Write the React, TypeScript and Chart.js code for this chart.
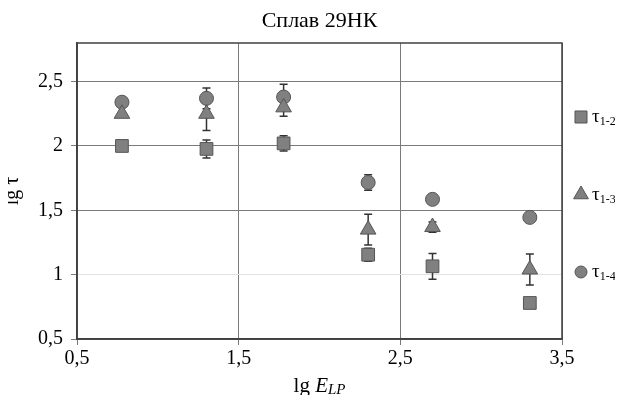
import React, { useEffect, useRef } from "react";
import { Chart, registerables } from "chart.js";

Chart.register(...registerables);

const titleText = "Сплав 29НК";
const xValues = [0.778, 1.301, 1.778, 2.301, 2.699, 3.301];
const tau12 = [2.0, 1.977, 2.02, 1.155, 1.065, 0.78];
const tau12Err = [0, 0.07, 0.06, 0.05, 0.1, 0];
const tau13 = [2.25, 2.25, 2.3, 1.35, 1.37, 1.04];
const tau13Err = [0, 0.13, 0.07, 0.12, 0.04, 0.12];
const tau14 = [2.34, 2.37, 2.38, 1.716, 1.585, 1.445];
const tau14Err = [0, 0.08, 0.1, 0.06, 0, 0];
const seriesNames = ["1-2", "1-3", "1-4"];
const xTicks = [0.5, 1.5, 2.5, 3.5];
const yTicks = [0.5, 1, 1.5, 2, 2.5];

const FONT = "'Liberation Serif', 'Times New Roman', serif";
const FILL = "#808080";
const EDGE = "#555555";

function drawMarker(ctx: CanvasRenderingContext2D, style: string, x: number, y: number, r: number) {
  ctx.beginPath();
  if (style === "rect") {
    const s = Math.SQRT1_2 * r;
    ctx.rect(x - s, y - s, 2 * s, 2 * s);
  } else if (style === "triangle") {
    ctx.moveTo(x, y - r);
    ctx.lineTo(x + r * 0.866, y + r * 0.5);
    ctx.lineTo(x - r * 0.866, y + r * 0.5);
    ctx.closePath();
  } else {
    ctx.arc(x, y, r, 0, Math.PI * 2);
  }
  ctx.fillStyle = FILL;
  ctx.strokeStyle = EDGE;
  ctx.lineWidth = 1;
  ctx.fill();
  ctx.stroke();
}

const decorPlugin = {
  id: "decor",
  beforeDatasetsDraw(chart: any) {
    const ctx: CanvasRenderingContext2D = chart.ctx;
    const xs = chart.scales.x;
    const ys = chart.scales.y;
    ctx.save();
    chart.data.datasets.forEach((ds: any) => {
      const errs: number[] = ds.errors || [];
      ds.data.forEach((p: any, i: number) => {
        const e = errs[i];
        if (!e) return;
        const px = xs.getPixelForValue(p.x);
        const yt = ys.getPixelForValue(p.y + e);
        const yb = ys.getPixelForValue(p.y - e);
        ctx.strokeStyle = "#333333";
        ctx.lineWidth = 1.5;
        ctx.beginPath();
        ctx.moveTo(px, yt);
        ctx.lineTo(px, yb);
        ctx.moveTo(px - 4, yt);
        ctx.lineTo(px + 4, yt);
        ctx.moveTo(px - 4, yb);
        ctx.lineTo(px + 4, yb);
        ctx.stroke();
      });
    });
    ctx.restore();
  },
  afterDatasetsDraw(chart: any) {
    const ctx: CanvasRenderingContext2D = chart.ctx;
    const ca = chart.chartArea;
    ctx.save();
    ctx.strokeStyle = "#404040";
    ctx.lineWidth = 1.5;
    ctx.strokeRect(ca.left, ca.top, ca.right - ca.left, ca.bottom - ca.top);
    ctx.restore();
  },
  afterDraw(chart: any) {
    const ctx: CanvasRenderingContext2D = chart.ctx;
    const ca = chart.chartArea;
    ctx.save();
    ctx.fillStyle = "#000";
    // title
    ctx.font = `22px ${FONT}`;
    ctx.textAlign = "center";
    ctx.textBaseline = "middle";
    ctx.fillText(titleText, (ca.left + ca.right) / 2, 13);
    // x axis title
    ctx.textBaseline = "alphabetic";
    ctx.textAlign = "left";
    const cx = (ca.left + ca.right) / 2;
    const by = chart.height - 3;
    ctx.font = `21px ${FONT}`;
    const w1 = ctx.measureText("lg ").width;
    ctx.font = `italic 21px ${FONT}`;
    const w2 = ctx.measureText("E").width;
    ctx.font = `italic 15px ${FONT}`;
    const w3 = ctx.measureText("LP").width;
    let x0 = cx - (w1 + w2 + w3) / 2;
    ctx.font = `21px ${FONT}`;
    ctx.fillText("lg ", x0, by);
    x0 += w1;
    ctx.font = `italic 21px ${FONT}`;
    ctx.fillText("E", x0, by);
    x0 += w2;
    ctx.font = `italic 15px ${FONT}`;
    ctx.fillText("LP", x0, by + 2);
    // y axis title
    ctx.save();
    ctx.translate(10, (ca.top + ca.bottom) / 2);
    ctx.rotate(-Math.PI / 2);
    ctx.font = `20px ${FONT}`;
    ctx.textAlign = "center";
    ctx.textBaseline = "alphabetic";
    ctx.fillText("lg τ", 0, 0);
    ctx.restore();
    // legend
    const midY = (ca.top + ca.bottom) / 2 + 3.5;
    const gap = 77.5;
    chart.data.datasets.forEach((ds: any, i: number) => {
      const ly = midY + (i - 1) * gap;
      const mx = ca.right + 19;
      drawMarker(ctx, ds.pointStyle, mx, ly, ds.pointStyle === "rect" ? 8.5 : ds.pointStyle === "triangle" ? 8.5 : 6);
      ctx.fillStyle = "#000";
      ctx.textAlign = "left";
      ctx.textBaseline = "alphabetic";
      ctx.font = `19px ${FONT}`;
      ctx.fillText("τ", mx + 11, ly + 5);
      const tw = ctx.measureText("τ").width;
      ctx.font = `12px ${FONT}`;
      ctx.fillText(seriesNames[i], mx + 11 + tw, ly + 8);
    });
    ctx.restore();
  },
};

const fmt = (v: number) => String(v).replace(".", ",");

export default function App() {
  const ref = useRef<HTMLCanvasElement | null>(null);
  useEffect(() => {
    if (!ref.current) return;
    const mk = (ys: number[], errs: number[], style: string, r: number, name: string) => ({
      label: "τ" + name,
      data: xValues.map((x, i) => ({ x, y: ys[i] })),
      errors: errs,
      pointStyle: style,
      pointRadius: r,
      pointHoverRadius: r,
      backgroundColor: FILL,
      borderColor: EDGE,
      borderWidth: 1,
      showLine: false,
    });
    const chart = new Chart(ref.current, {
      type: "scatter",
      data: {
        datasets: [
          mk(tau12, tau12Err, "rect", 9, seriesNames[0]),
          mk(tau13, tau13Err, "triangle", 9, seriesNames[1]),
          mk(tau14, tau14Err, "circle", 7, seriesNames[2]),
        ] as any,
      },
      options: {
        animation: false,
        responsive: true,
        maintainAspectRatio: false,
        layout: { padding: { top: 35, right: 61, left: 0, bottom: 0 } },
        plugins: { legend: { display: false }, title: { display: false }, tooltip: { enabled: false } },
        scales: {
          x: {
            type: "linear",
            min: 0.5,
            max: 3.5,
            afterBuildTicks: (s: any) => {
              s.ticks = xTicks.map((v) => ({ value: v }));
            },
            afterFit: (s: any) => {
              s.height = 56;
            },
            ticks: { callback: (v: any) => fmt(Number(v)), color: "#000", font: { family: FONT, size: 20 }, padding: 2, maxRotation: 0 },
            grid: { color: "#7a7a7a", lineWidth: 1, tickLength: 6, tickColor: "#7a7a7a" },
            border: { color: "#404040", width: 1.5 },
          },
          y: {
            type: "linear",
            min: 0.5,
            max: 2.8,
            afterBuildTicks: (s: any) => {
              s.ticks = yTicks.map((v) => ({ value: v }));
            },
            afterFit: (s: any) => {
              s.width = 69;
            },
            ticks: { callback: (v: any) => fmt(Number(v)), color: "#000", font: { family: FONT, size: 20 }, padding: 8 },
            grid: {
              color: (c: any) => (c.tick && c.tick.value === 1 ? "#e2e2e2" : "#7a7a7a"),
              lineWidth: 1,
              tickLength: 6,
              tickColor: "#7a7a7a",
            },
            border: { color: "#404040", width: 1.5 },
          },
        },
      } as any,
      plugins: [decorPlugin],
    });
    return () => chart.destroy();
  }, []);
  return (
    <div style={{ position: "relative", width: 615, height: 387 }}>
      <canvas ref={ref} />
    </div>
  );
}
